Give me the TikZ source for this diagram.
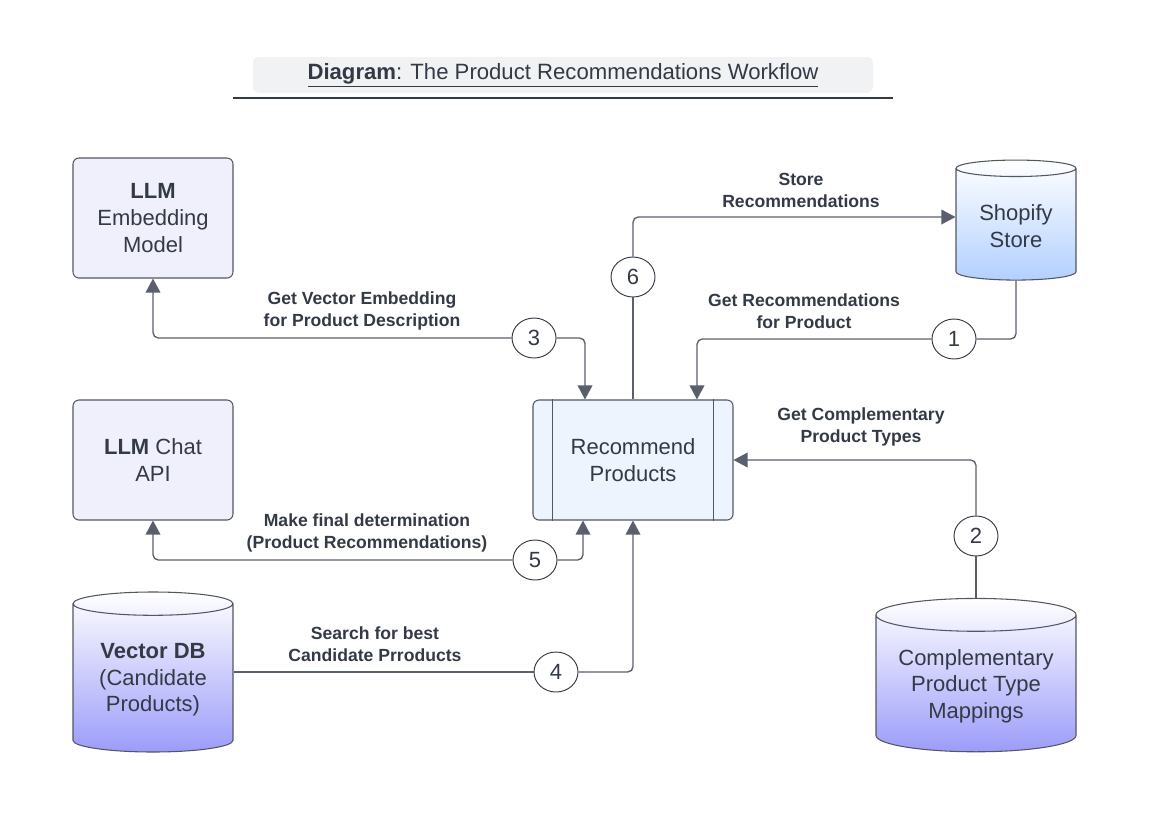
\documentclass[tikz,border=0pt]{standalone}
\usepackage{fontspec}
\setmainfont{Liberation Sans}
\usepackage{xcolor}
\usetikzlibrary{arrows.meta,shapes.geometric,calc}
\definecolor{ink}{HTML}{333A45}
\definecolor{wire}{HTML}{5A606B}
\definecolor{lavender}{HTML}{F0F0FC}
\definecolor{procfill}{HTML}{EDF4FE}
\definecolor{shopblue}{HTML}{B2D0FF}
\definecolor{dbpurple}{HTML}{9C9CFA}
\definecolor{titlegray}{HTML}{F1F2F4}

\begin{document}
\begin{tikzpicture}[x=0.75pt, y=-0.75pt, font=\color{ink},
  box/.style={draw=ink!85, fill=lavender, rounded corners=4.5pt, line width=0.8pt, minimum width=120pt, minimum height=90pt, align=center, font=\fontsize{16.5}{20}\selectfont\color{ink}},
  proc/.style={box, fill=procfill, minimum width=150pt},
  db/.style={shape=cylinder, shape border rotate=90, aspect=0.2, draw=ink!85, line width=0.8pt, shading=axis, top color=white, align=center, font=\fontsize{16.5}{20}\selectfont\color{ink}},
  stepnum/.style={ellipse, draw=ink, fill=white, line width=0.7pt, minimum width=33pt, minimum height=30pt, inner sep=0pt, font=\fontsize{16.5}{20}\selectfont\color{ink}},
  lbl/.style={align=center, font=\fontsize{13.2}{16.5}\selectfont\bfseries\color{ink}},
  link/.style={draw=wire, line width=1pt, rounded corners=4pt},
  tip/.style={-{Triangle[length=10.5pt, width=11pt]}}]

  \useasboundingbox (0,0) rectangle (1149,815);

  \node[fill=titlegray, rounded corners=4pt, minimum width=465pt, minimum height=27pt, font=\fontsize{16.6}{20}\selectfont\color{ink}] (title) at (563,75) {\underline{\textbf{Diagram}: The Product Recommendations Workflow}};
  \draw[ink, line width=0.8pt] (233,98) -- (893,98);

  \node[box] (embed) at (153,218) {\textbf{LLM}\\Embedding\\Model};
  \node[box] (chat) at (153,460) {\textbf{LLM} Chat\\API};
  \node[proc] (rec) at (633,460) {Recommend\\Products};
  \draw[draw=ink!85, line width=0.8pt] ($(rec.north west)+(20,0)$) -- ($(rec.south west)+(20,0)$);
  \draw[draw=ink!85, line width=0.8pt] ($(rec.north east)+(-20,0)$) -- ($(rec.south east)+(-20,0)$);

  \node[db, bottom color=shopblue, minimum width=90pt, minimum height=90pt] (shop) at (1016,226) {Shopify\\Store};
  \node[db, bottom color=dbpurple, minimum width=120pt, minimum height=120pt] (vdb) at (153,680) {\textbf{Vector DB}\\(Candidate\\Products)};
  \node[db, bottom color=dbpurple, minimum width=150pt, minimum height=115pt] (comp) at (976,686) {Complementary\\Product Type\\Mappings};

  \node[stepnum] (s1) at (954,339) {1};
  \node[stepnum] (s2) at (976,536) {2};
  \node[stepnum] (s3) at (534,338) {3};
  \node[stepnum] (s4) at (556,672) {4};
  \node[stepnum] (s5) at (535,560) {5};
  \node[stepnum] (s6) at (633,277) {6};

  \coordinate (r1) at ($(rec.north)+(64,0)$);
  \coordinate (r3) at ($(rec.north)+(-48,0)$);
  \coordinate (r5) at ($(rec.south)+(-50,0)$);
  \coordinate (shopin) at (shop.west |- 0,217);

  \draw[link] (shop.south) |- (s1);
  \draw[link, tip] (s1) -| (r1);
  \draw[link] (comp.north) -- (s2);
  \draw[link, tip] (s2) |- (rec.east);
  \draw[link, tip] (s3) -| (embed.south);
  \draw[link, tip] (s3) -| (r3);
  \draw[link] (vdb.east |- s4) -- (s4);
  \draw[link, tip] (s4) -| (rec.south);
  \draw[link, tip] (s5) -| (chat.south);
  \draw[link, tip] (s5) -| (r5);
  \draw[link] (rec.north) -- (s6);
  \draw[link, tip] (s6) |- (shopin);

  \node[lbl] (l6) at (801,190) {Store\\Recommendations};
  \node[lbl] (l3) at (362,311) {Get Vector Embedding\\for Product Description};
  \node[lbl] (l1) at (804,311) {Get Recommendations\\for Product};
  \node[lbl] (l2) at (861,427) {Get Complementary\\Product Types};
  \node[lbl] (l5) at (367,533) {Make final determination\\(Product Recommendations)};
  \node[lbl] (l4) at (375,644) {Search for best\\Candidate Prroducts};
\end{tikzpicture}
\end{document}
